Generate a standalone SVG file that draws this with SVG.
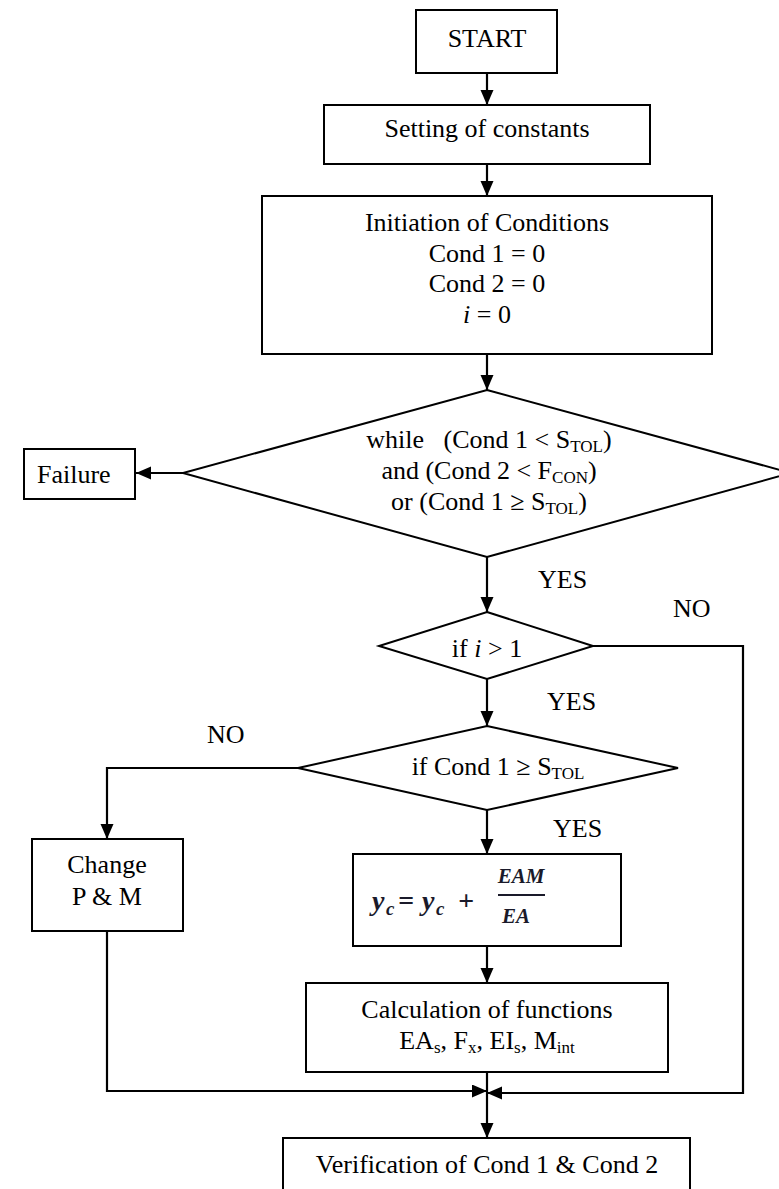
<svg xmlns="http://www.w3.org/2000/svg" width="779" height="1189" viewBox="0 0 779 1189">
<defs>
<style>
.box{fill:#fff;stroke:#000;stroke-width:2}
.ln{fill:none;stroke:#000;stroke-width:2.2}
.t{font-family:"Liberation Serif","Times New Roman",serif;font-size:26px;fill:#000}
.m{text-anchor:middle}
.sub{font-size:17px}
.it{font-style:italic}
.fx{font-family:"Liberation Serif","Times New Roman",serif;font-style:italic;font-weight:bold;fill:#1a1a2a}
</style>
<marker id="ah" markerUnits="userSpaceOnUse" markerWidth="16" markerHeight="14" refX="15" refY="6.5" orient="auto">
<path d="M0,0 L15,6.5 L0,13 z" fill="#000"/>
</marker>
</defs>
<rect width="779" height="1189" fill="#fff"/>

<g id="connectors">
<line class="ln" x1="487" y1="73" x2="487" y2="105" marker-end="url(#ah)"/>
<line class="ln" x1="487" y1="164" x2="487" y2="196" marker-end="url(#ah)"/>
<line class="ln" x1="487" y1="354" x2="487" y2="390" marker-end="url(#ah)"/>
<line class="ln" x1="183" y1="473" x2="136" y2="473" marker-end="url(#ah)"/>
<line class="ln" x1="487" y1="557" x2="487" y2="612" marker-end="url(#ah)"/>
<line class="ln" x1="487" y1="679" x2="487" y2="726" marker-end="url(#ah)"/>
<polyline class="ln" points="593,646 743,646 743,1093 487,1093" marker-end="url(#ah)"/>
<polyline class="ln" points="298,768 107,768 107,839" marker-end="url(#ah)"/>
<line class="ln" x1="487" y1="810" x2="487" y2="854" marker-end="url(#ah)"/>
<line class="ln" x1="487" y1="946" x2="487" y2="983" marker-end="url(#ah)"/>
<polyline class="ln" points="107,931 107,1091 487,1091" marker-end="url(#ah)"/>
<line class="ln" x1="487" y1="1072" x2="487" y2="1138" marker-end="url(#ah)"/>
<text class="t" x="538" y="588">YES</text>
<text class="t" x="673" y="617">NO</text>
<text class="t" x="547" y="710">YES</text>
<text class="t" x="207" y="743">NO</text>
<text class="t" x="553" y="837">YES</text>
</g>

<g id="start">
<rect class="box" x="416" y="10" width="141" height="63"/>
<text class="t m" x="487" y="47">START</text>
</g>

<g id="setting">
<rect class="box" x="324" y="105" width="326" height="59"/>
<text class="t m" x="487" y="137">Setting of constants</text>
</g>

<g id="initiation">
<rect class="box" x="262" y="196" width="450" height="158"/>
<text class="t m" x="487" y="231">Initiation of Conditions</text>
<text class="t m" x="487" y="262">Cond 1 = 0</text>
<text class="t m" x="487" y="292">Cond 2 = 0</text>
<text class="t m" x="487" y="323"><tspan class="it">i</tspan> = 0</text>
</g>

<g id="while">
<polygon class="box" points="487,390 791,473 487,557 183,473"/>
<text class="t m" x="489" y="448" xml:space="preserve">while   (Cond 1 &lt; S<tspan class="sub" dy="4">TOL</tspan><tspan dy="-4">)</tspan></text>
<text class="t m" x="489" y="479">and (Cond 2 &lt; F<tspan class="sub" dy="4">CON</tspan><tspan dy="-4">)</tspan></text>
<text class="t m" x="489" y="510">or (Cond 1 ≥ S<tspan class="sub" dy="4">TOL</tspan><tspan dy="-4">)</tspan></text>
</g>

<g id="failure">
<rect class="box" x="24" y="449" width="111" height="50"/>
<text class="t" x="37" y="483">Failure</text>
</g>

<g id="if-i">
<polygon class="box" points="487,612 593,646 487,679 379,646"/>
<text class="t m" x="487" y="657">if <tspan class="it">i</tspan> &gt; 1</text>
</g>

<g id="if-cond">
<polygon class="box" points="487,726 678,768 487,810 298,768"/>
<text class="t m" x="498" y="775">if Cond 1 ≥ S<tspan class="sub" dy="4">TOL</tspan></text>
</g>

<g id="change">
<rect class="box" x="32" y="839" width="151" height="92"/>
<text class="t m" x="107" y="873">Change</text>
<text class="t m" x="107" y="905">P &amp; M</text>
</g>

<g id="formula">
<rect class="box" x="353" y="854" width="268" height="92"/>
<text class="fx" x="372" y="910" font-size="28">y</text>
<text class="fx" x="386" y="915" font-size="19">c</text>
<text class="fx" x="398" y="910" font-size="28" font-style="normal" font-weight="normal">=</text>
<text class="fx" x="422" y="910" font-size="28">y</text>
<text class="fx" x="436" y="915" font-size="19">c</text>
<text class="fx" x="458" y="910" font-size="28" font-style="normal" font-weight="normal">+</text>
<line x1="498" y1="895" x2="545" y2="895" stroke="#1a1a2a" stroke-width="1.8"/>
<text class="fx" x="521" y="883" font-size="21" text-anchor="middle">EAM</text>
<text class="fx" x="516" y="923" font-size="21" text-anchor="middle">EA</text>
</g>

<g id="calculation">
<rect class="box" x="306" y="983" width="362" height="89"/>
<text class="t m" x="487" y="1018">Calculation of functions</text>
<text class="t m" x="487" y="1049">EA<tspan class="sub" dy="4">s</tspan><tspan dy="-4">, F</tspan><tspan class="sub" dy="4">x</tspan><tspan dy="-4">, EI</tspan><tspan class="sub" dy="4">s</tspan><tspan dy="-4">, M</tspan><tspan class="sub" dy="4">int</tspan></text>
</g>

<g id="verification">
<rect class="box" x="283" y="1138" width="407" height="60"/>
<text class="t m" x="487" y="1173">Verification of Cond 1 &amp; Cond 2</text>
</g>
</svg>
